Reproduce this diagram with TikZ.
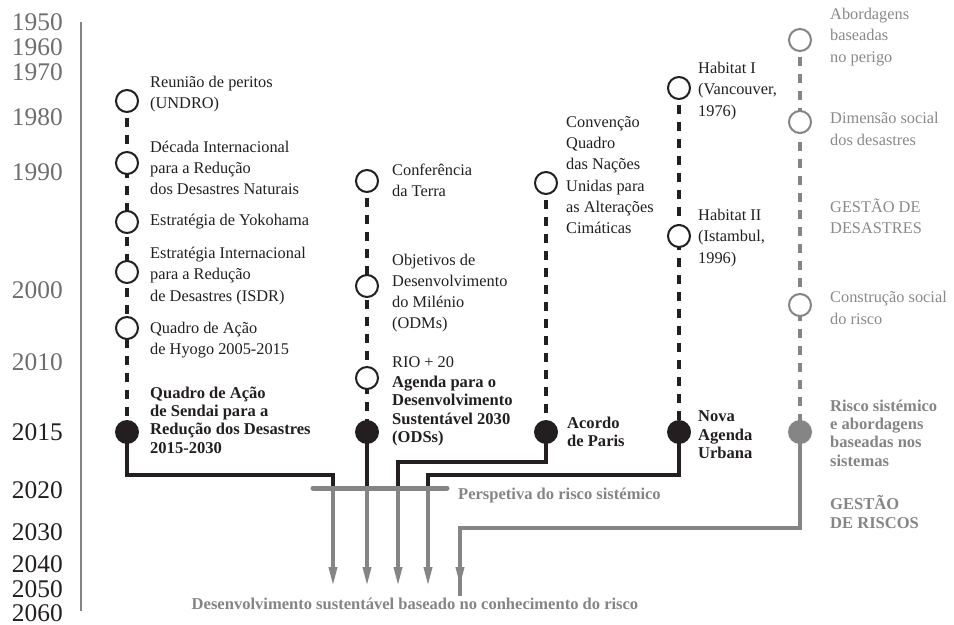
\documentclass[tikz,border=0pt]{standalone}
\usepackage{fontspec}
\setmainfont{Liberation Serif}
\usetikzlibrary{arrows.meta}
\definecolor{ink}{HTML}{231F20}
\definecolor{gline}{HTML}{858585}
\definecolor{gtext}{HTML}{8A8A8A}
\definecolor{gyear}{HTML}{6E6E6E}
\begin{document}
\begin{tikzpicture}[x=1bp,y=-1bp,
  year/.style={anchor=east, inner sep=0, font=\fontsize{25.5}{25.5}\selectfont},
  ev/.style={anchor=west, inner sep=0, align=left, text=ink, font=\fontsize{16.4}{21.3}\selectfont},
  evb/.style={anchor=west, inner sep=0, align=left, text=ink, font=\fontsize{16.6}{18.5}\selectfont\bfseries},
  gev/.style={ev, text=gtext},
  gevb/.style={evb, text=gline},
  opn/.style={circle, draw=ink, line width=2bp, fill=white, minimum size=22bp, inner sep=0},
  ful/.style={circle, fill=ink, minimum size=24bp, inner sep=0},
  gopn/.style={opn, draw=gline},
  gful/.style={ful, fill=gline},
  dashline/.style={draw=ink, line width=4bp, dash pattern=on 9bp off 8bp},
  gdashline/.style={draw=gline, line width=3.5bp, dash pattern=on 9bp off 8bp},
  link/.style={draw=ink, line width=4.5bp, line join=miter},
  glink/.style={draw=gline, line width=4bp, line join=miter},
  garrow/.style={draw=gline, line width=3.5bp, -{Triangle[length=19bp, width=8bp]}},
]
\useasboundingbox (0,0) rectangle (954,625);
\fill[white] (0,0) rectangle (954,625);

% time axis
\coordinate (axtop) at (81,22);
\coordinate (axbot) at (81,611);
\draw[gline, line width=2.5bp] (axtop) -- (axbot);
\foreach \yr/\yy/\cc in {1950/22/gyear,1960/47/gyear,1970/72/gyear,1980/117/gyear,1990/172/gyear,2000/290/gyear,2010/362/gyear,2015/432/ink,2020/490/ink,2030/532/ink,2040/564/ink,2050/589/ink,2060/613/ink}
  \node[year, text=\cc] (y\yr) at (63,\yy) {\yr};

% column 1
\coordinate (c1top) at (127,101);
\coordinate (c1bot) at (127,432);
\draw[dashline] (c1top) -- (c1bot);
\node[opn] (c1a) at (127,101) {};
\node[opn] (c1b) at (127,163) {};
\node[opn] (c1c) at (127,222) {};
\node[opn] (c1d) at (127,272) {};
\node[opn] (c1e) at (127,328) {};
\node[ful] (c1f) at (127,432) {};
\node[ev] (t1a) at (150,94) {Reunião de peritos\\(UNDRO)};
\node[ev] (t1b) at (150,168) {Década Internacional\\para a Redução\\dos Desastres Naturais};
\node[ev] (t1c) at (150,222) {Estratégia de Yokohama};
\node[ev] (t1d) at (150,276) {Estratégia Internacional\\para a Redução\\de Desastres (ISDR)};
\node[ev] (t1e) at (150,340) {Quadro de Ação\\de Hyogo 2005-2015};
\node[evb] (t1f) at (150,420) {Quadro de Ação\\de Sendai para a\\Redução dos Desastres\\2015-2030};

% column 2
\draw[dashline] (367,181) -- (367,432);
\node[opn] (c2a) at (367,181) {};
\node[opn] (c2b) at (367,286) {};
\node[opn] (c2c) at (367,378) {};
\node[ful] (c2f) at (367,432) {};
\node[ev] (t2a) at (392,180) {Conferência\\da Terra};
\node[ev] (t2b) at (392,293) {Objetivos de\\Desenvolvimento\\do Milénio\\(ODMs)};
\node[ev] (t2c) at (392,362) {RIO + 20};
\node[evb] (t2f) at (392,411) {Agenda para o\\Desenvolvimento\\Sustentável 2030\\(ODSs)};

% column 3
\draw[dashline] (546,183) -- (546,432);
\node[opn] (c3a) at (546,183) {};
\node[ful] (c3f) at (546,432) {};
\node[ev] (t3a) at (566,175) {Convenção\\Quadro\\das Nações\\Unidas para\\as Alterações\\Cimáticas};
\node[evb] (t3f) at (567,432) {Acordo\\de Paris};

% column 4
\draw[dashline] (679,88) -- (679,432);
\node[opn] (c4a) at (679,88) {};
\node[opn] (c4b) at (679,236) {};
\node[ful] (c4f) at (679,432) {};
\node[ev] (t4a) at (698,91) {Habitat I\\(Vancouver,\\1976)};
\node[ev] (t4b) at (698,238) {Habitat II\\(Istambul,\\1996)};
\node[evb] (t4f) at (698,435) {Nova\\Agenda\\Urbana};

% column 5 (grey)
\draw[gdashline] (800,40) -- (800,432);
\node[gopn] (c5a) at (800,40) {};
\node[gopn] (c5b) at (800,122) {};
\node[gopn] (c5c) at (800,305) {};
\node[gful] (c5f) at (800,432) {};
\node[gev] (t5a) at (830,37) {Abordagens\\baseadas\\no perigo};
\node[gev] (t5b) at (830,129) {Dimensão social\\dos desastres};
\node[gev] (t5g) at (830,216) {GESTÃO DE\\DESASTRES};
\node[gev] (t5c) at (830,308) {Construção social\\do risco};
\node[gevb] (t5f) at (830,433) {Risco sistémico\\e abordagens\\baseadas nos\\sistemas};
\node[gevb] (t5h) at (830,512) {GESTÃO\\DE RISCOS};

% junctions
\coordinate (k1) at (333,475);
\coordinate (k3) at (398,462);
\coordinate (k4) at (428,475);
\coordinate (k5) at (460,528);
\coordinate (b1) at (333,488);
\coordinate (b2) at (367,488);
\coordinate (b3) at (398,488);
\coordinate (b4) at (428,488);
\coordinate (e1) at (333,586);
\coordinate (e2) at (367,586);
\coordinate (e3) at (398,586);
\coordinate (e4) at (428,586);
\coordinate (e5) at (460,586);
\coordinate (barL) at (313,488);
\coordinate (barR) at (447,488);

\draw[link] (c1f.center) |- (k1) -- (b1);
\draw[link] (c2f.center) -- (b2);
\draw[link] (c3f.center) |- (k3) -- (b3);
\draw[link] (c4f.center) |- (k4) -- (b4);
\draw[glink] (c5f.center) |- (k5) -- ([yshift=-10bp]e5);

\draw[gline, line width=5bp, line cap=round] (barL) -- (barR);
\draw[garrow] (b1) -- (e1);
\draw[garrow] (b2) -- (e2);
\draw[garrow] (b3) -- (e3);
\draw[garrow] (b4) -- (e4);
\draw[garrow] (k5) -- (e5);

\node[gevb] (persp) at (458,496) {Perspetiva do risco sistémico};
\node[gevb, anchor=center] (goal) at (415,604) {Desenvolvimento sustentável baseado no conhecimento do risco};
\end{tikzpicture}
\end{document}
